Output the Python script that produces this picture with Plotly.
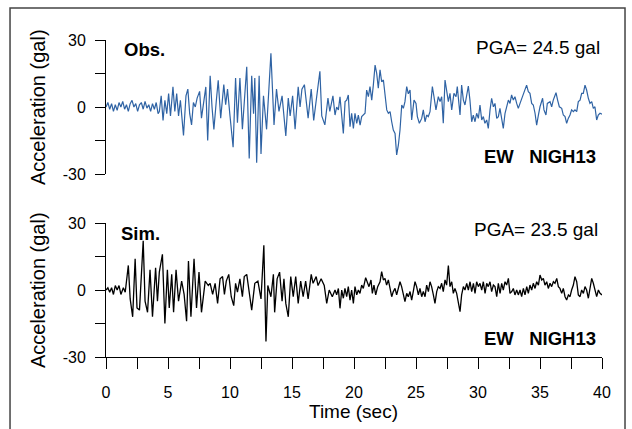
import plotly.graph_objects as go

# ---------------- data ----------------
obs_t = [0, 0.15, 0.3, 0.45, 0.6, 0.75, 0.9, 1.05, 1.2, 1.35, 1.5, 1.65, 1.8, 1.95, 2.1, 2.25, 2.4, 2.55,
         2.7, 2.85, 3.0, 3.15, 3.3, 3.45, 3.6, 3.75, 3.9, 4.05, 4.2,
         4.3, 4.45, 4.6, 4.75, 4.9, 5.05, 5.2, 5.4, 5.55, 5.7, 5.85, 6.0, 6.25, 6.45, 6.6, 6.75, 6.9, 7.05,
         7.2, 7.35, 7.55, 7.7, 7.85, 8.05, 8.2, 8.4, 8.55, 8.7, 8.9, 9.05, 9.25, 9.5, 9.65, 9.8, 10.0, 10.25,
         10.45, 10.6, 10.8, 11.0, 11.35, 11.55, 11.75, 11.9, 12.0, 12.15, 12.35, 12.5, 12.7, 12.95, 13.3,
         13.55, 13.75, 13.95, 14.2, 14.5, 14.7, 14.85, 15.05, 15.25, 15.5, 15.65, 15.8, 16.0, 16.3, 16.55,
         16.75, 16.95, 17.25, 17.4, 17.65, 17.9, 18.05, 18.3,
         18.47, 18.6, 18.74, 18.87, 19.01, 19.14, 19.28, 19.41, 19.54, 19.68, 19.81, 19.95, 20.08, 20.22,
         20.35, 20.49, 20.62, 20.76, 20.89, 21.02, 21.16, 21.29, 21.43, 21.56, 21.7, 21.83, 21.96, 22.1,
         22.23, 22.37, 22.5, 22.64, 22.77, 22.91, 23.04, 23.17, 23.31, 23.44, 23.58, 23.71, 23.85, 23.98,
         24.11, 24.25, 24.38,
         24.52, 24.65, 24.84, 25.0, 25.11, 25.27, 25.46, 25.59, 25.73, 25.86, 25.99, 26.13, 26.32, 26.45,
         26.61, 26.8, 26.94, 27.07, 27.2, 27.34, 27.47, 27.61, 27.74, 27.88, 28.06, 28.23, 28.33, 28.47,
         28.55, 28.68, 28.82, 28.95, 29.09, 29.22, 29.35, 29.49, 29.62, 29.76, 29.89, 30.03, 30.16, 30.3,
         30.43, 30.56, 30.7, 30.83, 30.97, 31.1, 31.24, 31.37, 31.51, 31.64, 31.77, 31.91, 32.04, 32.18,
         32.31, 32.45, 32.58, 32.71, 32.85, 32.98, 33.12, 33.25, 33.39, 33.6, 33.79, 33.92, 34.06, 34.19,
         34.33, 34.46, 34.6, 34.73, 34.87, 35.0, 35.21, 35.32, 35.48, 35.59, 35.81, 35.94, 36.07, 36.29,
         36.42, 36.56, 36.75, 36.88, 37.02, 37.15, 37.28, 37.42, 37.55, 37.69, 37.82, 37.96, 38.09, 38.23,
         38.36, 38.49, 38.63, 38.76, 38.9, 39.03, 39.17, 39.3, 39.43, 39.57, 39.7, 39.84, 40.0]
obs_v = [0, 2, -1, 1.5, -2, 1, -1.5, 2, 0, 2.5, -1, 1, -2, 1.5, 3, 0, 1.5, -2,
         1, 2, -1, 2.5, -0.5, 1, -2, 1.5, -1, 2, -3,
         -2, 5, -6, 3, -3, 6, -4, 9, -2, 6, -4, 3, -12.7, 5, 8, -3, -8, 2,
         0, 4, 7, -5, 2, 9, -15, 14, 0, -10, 3, 12, -5, 10, 1, 8, -4, -18,
         13, -7, 13, -10, 18, -23, 14, -3, 13, -25, 14, -21, 5, -10, 24,
         -8, 8, -2, 5, -13, 4, -4, 5, -10, 9, 0, 8, 10, -5, 8,
         -6, 2, 16, -4, -8, 4, -2, 5,
         -3.6, 0, -1.3, 4.6, -5.1, -11.8, 2.4, 3.1, 5.4, -8.8, -2.8, -9.6, -2.8, -7.3,
         -3.6, -8.1, -4.3, -3.6, -2.8, 7.6, 4.6, 9.1, 3.1, 9.8, 18.8, 15.1, 8.4, 16.6,
         11.3, 12.1, 4.6, -1.3, -2.8, -2.1, -6.6, -10.3, -11.8, -21.5, -17, -10.3, 0.9, -0.6,
         2.4, 9.1, 5.9,
         7.6, -5.8, 3.1, 1.6, -4.3, -7.3, -5.1, -1.3, -6.6, -3.6, -4.3, -2.1, 9.1, 4.6,
         -1.3, 4.6, 2.4, 4.6, -7.3, 12.1, 6.1, 2.4, 6.1, -1.3, 6.1, 4.6, 9.1, 1.6,
         -3.6, 9.8, 3.1, 0.9, 5.4, 9.4, 3.1, -6.6, -3.6, -6.6, -2.8, -5.1, 0.9, -5.8,
         -4.3, -7.3, -5.8, -9.6, -1.3, 3.9, 0.1, 1.6, -5.1, -4.3, -0.6, -6.6, -9.6, -2.8,
         0.1, 3.1, 1.6, 5.4, 3.1, 4.6, 1.6, -0.6, 1.6, 4.6, 7.6, 9.8, 6.9, 6.1,
         1.6, 0.9, -2.8, -8.1, -3.6, 0.1, 3.9, -1.3, -3.6, 1.6, 2.4, 0.1, 3.1, 6.4,
         3.1, 0.1, -0.6, -3.6, -4.3, -7.3, -5.1, -3.6, -1.3, -2.1, -1.3, -2.1, 2.4, 3.1,
         6.1, 6.1, 9.8, 7.6, 3.9, 1.6, 2.4, -0.6, 0.1, -5.8, -3.6, -2.8, -3.2]

sim_t = [0, 0.15, 0.3, 0.45, 0.6, 0.75, 0.9, 1.05, 1.2, 1.4, 1.55,
         1.8, 1.95, 2.15, 2.35, 2.5, 2.7, 2.85, 3.0, 3.15, 3.35, 3.55, 3.75, 4.0, 4.15, 4.3, 4.55, 4.75,
         4.95, 5.1, 5.3, 5.45, 5.65, 5.85, 6.1, 6.3, 6.5, 6.65, 6.85, 7.1, 7.3, 7.5, 7.7, 8.0, 8.25, 8.4,
         8.6, 8.8, 9.0, 9.2, 9.4, 9.55, 9.7, 9.9, 10.1, 10.3, 10.45, 10.6, 10.8, 11.0, 11.15, 11.35, 11.5,
         11.75, 12.0, 12.25, 12.5, 12.73, 12.9, 13.05, 13.3, 13.5, 13.6, 13.8, 14.0, 14.2, 14.35, 14.5,
         14.7, 14.9, 15.1, 15.3, 15.5, 15.7, 15.9, 16.1, 16.3, 16.55, 16.7, 16.95, 17.1, 17.35, 17.6, 17.8,
         18.0, 18.25,
         18.47, 18.6, 18.74, 18.87, 19.01, 19.14, 19.27, 19.41, 19.54, 19.68, 19.81, 19.95, 20.08, 20.22,
         20.35, 20.48, 20.62, 20.75, 20.94, 21.08, 21.21, 21.37, 21.48, 21.61, 21.75, 21.91, 22.1, 22.23,
         22.37, 22.5, 22.63, 22.77, 22.9, 23.04, 23.17, 23.31, 23.44, 23.58, 23.71, 23.84, 23.98, 24.11,
         24.25, 24.38, 24.52, 24.65, 24.78, 24.92, 25.05, 25.19, 25.32, 25.46, 25.59, 25.73, 25.86, 26.0,
         26.13, 26.26, 26.4, 26.53, 26.67, 26.8, 26.94, 27.07, 27.2, 27.34, 27.47, 27.61, 27.74, 27.88,
         28.01, 28.14, 28.28, 28.41, 28.55, 28.68, 28.82, 28.95,
         29.09, 29.22, 29.36, 29.49, 29.63, 29.76, 29.89, 30.03, 30.16, 30.3, 30.43, 30.57, 30.7, 30.83,
         30.97, 31.1, 31.24, 31.37, 31.51, 31.64, 31.78, 31.91, 32.04, 32.18, 32.31, 32.45, 32.58, 32.72,
         32.85, 32.98, 33.12, 33.25, 33.39, 33.52, 33.66, 33.79, 33.93, 34.06, 34.19, 34.33, 34.46, 34.6,
         34.73, 34.87, 35.0, 35.14, 35.27, 35.4, 35.54, 35.67, 35.81, 35.94, 36.08, 36.21, 36.35, 36.48,
         36.61, 36.75, 36.88, 37.02, 37.15, 37.29, 37.42, 37.55, 37.69, 37.82, 37.96, 38.09, 38.23, 38.36,
         38.5, 38.63, 38.76, 38.9, 39.03, 39.17, 39.3, 39.44, 39.57, 39.71, 39.84, 40.0]
sim_v = [0, 1, -1, 1, -2, 2, 0, 2, -2, 1, -1,
         11, -4, -12, 14, -8, -9, 10, 22, -5, -10, 9, -12, 10, -5, 8, 16, -15,
         9, -8, 7, -10, 9, -5, 4, -2, -14, 13, -12, 14, -8, 8, -10, 4, 2, 3,
         -2, 3, -6, 5, 6, -2, 4, 7, -3, -7, 3, -1, 5, -3, 6, 7, 0,
         -9, 3, 4, -4, 20, -23, 2, -3, 7, -10, 5, 8, -5, 5, -6,
         -12, 6, -3, 6, -6, 4, -3, 4, -4, 7, 3, 6, 2, 5, 2, -6,
         0, -3,
         0, -2.2, 0.7, -8.2, 0, -3.7, 0.7, -3, 1.5, -4.5, 0, -6, 1.5, -2.2,
         0, -1.5, 2.2, 0.7, 5.5, 3.7, 1.5, 4.5, -1.5, 2.2, -2.2, 1.5, 3.7, 8.2,
         4.5, 5.2, 2.2, 4.5, 0, -3, -0.7, 0.7, -2.2, 1.5, 3.7, 1.5, -1.5, -5.2,
         -1.5, -3, -0.7, -4.5, -0.7, 3.7, 1.5, -2.2, 0.7, -3, -0.7, -3, 2.2, -0.7,
         3.7, 1.5, -2.2, -6, -0.7, 1.5, 0.7, 3, -0.7, 4.5, 2.2, 10.9, 1.5, 3.7,
         -1.5, 0.7, -1.5, -5.2, -9.7, -2.2, 1.5, 0,
         3, 0, 3.7, -0.7, 3, -1.5, 3.7, 1.5, 3, 0, 3.7, -1.5, 3, 1.5,
         3.7, -0.7, 2.2, 1.5, -3, 3, -1.5, 3, 0, 3.7, 2.2, 5.2, -1.5, -0.7,
         0.7, -2.2, 0, -2.2, 0, -3, 0.7, -2.2, 1.5, -1.5, 2.2, 0, 3, 0.7,
         3.7, 2.2, 6.7, 4.5, 5.2, 2.2, 3.7, 0.7, 3, 1.5, 3.7, 3, 5.2, 1.5,
         0.7, -1.5, 0.7, -3, -4.5, -2.2, -3, 0, 2.2, 6, 3.7, -2.2, -3, 0,
         -1.5, 1.5, 0, -3.7, 1.5, 5.2, 3, -0.7, -3, 0, -1.5, -2.2]

y_tickvals = [-30, -15, 0, 15, 30]
y_ticktext = ["-30", "", "0", "", "30"]
x_tickvals = [0, 2.5, 5, 7.5, 10, 12.5, 15, 17.5, 20, 22.5, 25, 27.5, 30, 32.5, 35, 37.5, 40]
x_ticktext = ["0", "", "5", "", "10", "", "15", "", "20", "", "25", "", "30", "", "35", "", "40"]

FONT = "Liberation Sans, Arial, sans-serif"

fig = go.Figure()
fig.add_trace(go.Scatter(x=obs_t, y=obs_v, mode="lines", xaxis="x", yaxis="y",
                         line=dict(color="#2f63a4", width=1.2), showlegend=False))
fig.add_trace(go.Scatter(x=sim_t, y=sim_v, mode="lines", xaxis="x2", yaxis="y2",
                         line=dict(color="black", width=1.3), showlegend=False))

yax = dict(range=[-30, 30], showline=True, linecolor="black", linewidth=1, ticks="outside",
           ticklen=10, tickcolor="black", tickvals=y_tickvals, ticktext=y_ticktext,
           tickfont=dict(size=16, color="black", family=FONT), showgrid=False, zeroline=False,
           ticklabelstandoff=6)

fig.update_layout(
    width=632, height=429,
    margin=dict(l=106, r=30, t=40, b=72),
    paper_bgcolor="white", plot_bgcolor="white",
    font=dict(family=FONT, color="black"),
    xaxis=dict(domain=[0, 1], range=[0, 40], visible=False, anchor="y"),
    yaxis=dict(domain=[0.5773, 1], anchor="x", **yax),
    xaxis2=dict(domain=[0, 1], range=[0, 40], anchor="y2", showline=True, linecolor="black",
                linewidth=1, ticks="outside", ticklen=11, tickcolor="black",
                tickvals=x_tickvals, ticktext=x_ticktext, showgrid=False, zeroline=False,
                tickfont=dict(size=16, color="black", family=FONT), ticklabelstandoff=10),
    yaxis2=dict(domain=[0, 0.4227], anchor="x2", **yax),
)

ann = []
def A(text, x, y, xa, size, bold=False, angle=0):
    ann.append(dict(text=("<b>%s</b>" % text) if bold else text, x=x, y=y, xref="paper", yref="paper",
                    xanchor=xa, yanchor="middle", showarrow=False, textangle=angle,
                    font=dict(size=size, color="black", family=FONT)))

A("Obs.", 0.032, 0.9685, "left", 18.5, bold=True)
A("PGA= 24.5 gal", 1.0, 0.9763, "right", 19)
A("EW\u00a0\u00a0\u00a0NIGH13", 0.992, 0.634, "right", 18.5, bold=True)
A("Sim.", 0.026, 0.391, "left", 18.5, bold=True)
A("PGA= 23.5 gal", 0.996, 0.402, "right", 19)
A("EW\u00a0\u00a0\u00a0NIGH13", 0.992, 0.0568, "right", 18.5, bold=True)
A("Acceleration (gal)", -0.137, 0.7886, "center", 20, angle=-90)
A("Acceleration (gal)", -0.137, 0.2114, "center", 20, angle=-90)
A("Time (sec)", 0.499, -0.1735, "center", 19)
fig.update_layout(annotations=ann)

fig.add_shape(type="rect", xref="paper", yref="paper", x0=-0.1935, x1=1.0464, y0=-0.4, y1=1.101,
              line=dict(color="#444444", width=1.5), fillcolor="rgba(0,0,0,0)", layer="above")

fig.write_html("out.html")
